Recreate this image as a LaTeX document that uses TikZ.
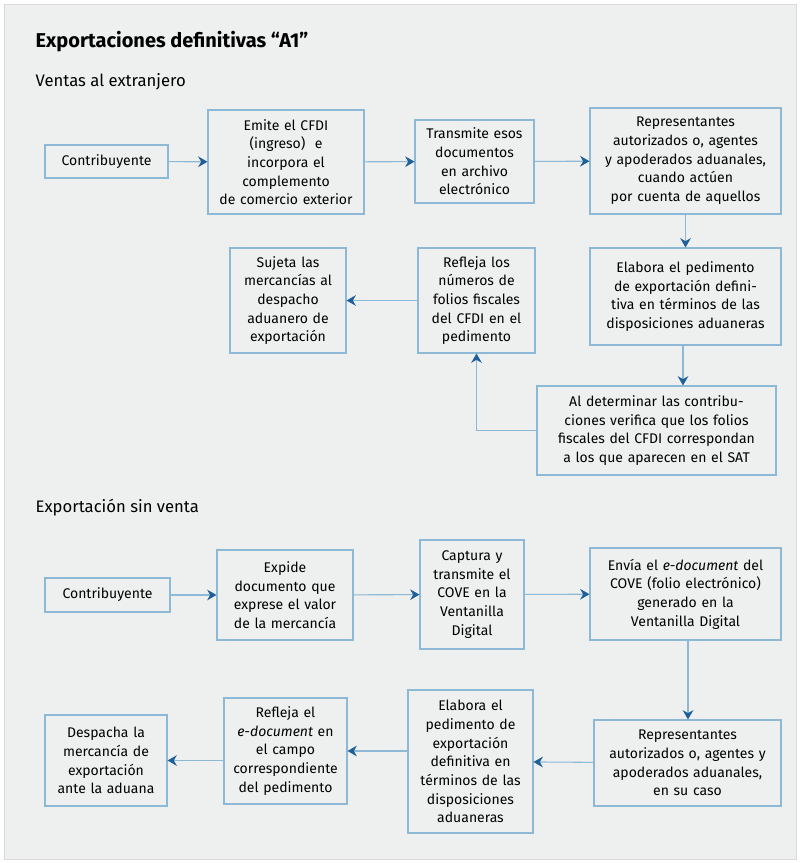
\documentclass[tikz,border=0pt]{standalone}
\usepackage{fontspec}
\setmainfont{Fira Sans}
\usetikzlibrary{arrows.meta}
\definecolor{fondo}{HTML}{EEF0EF}
\definecolor{marco}{HTML}{8DB8D6}
\definecolor{flecha}{HTML}{1F5F9A}
\tikzset{
  paso/.style={draw=marco, thick, align=center, inner sep=2pt, font=\fontsize{10.5}{14}\selectfont},
  flujo/.style={draw=marco, thick, -{Stealth[length=7pt,width=8pt,color=flecha]}}
}
% caja centrada en (x,y) con ancho y alto en pixeles
\newcommand{\caja}[7]{\node[paso, minimum width=#4*0.75pt, minimum height=#5*0.75pt, text width=#6*0.75pt] (#1) at (#2,#3) {#7};}
\begin{document}
\begin{tikzpicture}[x=0.75pt, y=-0.75pt]
  % Fondo
  \fill[white] (0,0) rectangle (800,863);
  \draw[fill=fondo, draw=black!15] (4,4) rectangle (796,859);
  \useasboundingbox (0,0) rectangle (800,863);

  % Titulos
  \node[anchor=west, font=\bfseries\fontsize{15}{18}\selectfont] (titulo) at (31,42) {Exportaciones definitivas “A1”};
  \node[anchor=west, font=\fontsize{12.5}{15}\selectfont] (venta) at (31,82) {Ventas al extranjero};
  \node[anchor=west, font=\fontsize{12.5}{15}\selectfont] (sinventa) at (31,508) {Exportación sin venta};

  % Ventas al extranjero
  \caja{a1}{106.5}{161.5}{123}{33}{115}{Contribuyente}
  \caja{a2}{286}{162}{156}{104}{150}{Emite el CFDI\\(ingreso)\ \ e\\incorpora el\\complemento\\de comercio exterior}
  \caja{a3}{474.5}{161.5}{119}{83}{112}{Transmite esos documentos en archivo electrónico}
  \caja{a4}{685.5}{161}{191}{106}{185}{Representantes\\autorizados o, agentes\\y apoderados aduanales,\\cuando actúen\\por cuenta de aquellos}
  \caja{a5}{685.5}{296.5}{191}{97}{185}{Elabora el pedimento de exportación definitiva en términos de las disposiciones aduaneras}
  \caja{a6}{656.5}{430.5}{239}{89}{232}{Al determinar las contribuciones verifica que los folios fiscales del CFDI correspondan a los que aparecen en el SAT}
  \caja{a7}{476.5}{300.5}{117}{105}{108}{Refleja los\\números de\\folios fiscales\\del CFDI en el\\pedimento}
  \caja{a8}{288}{300.5}{116}{105}{108}{Sujeta las\\mercancías al\\despacho\\aduanero de\\exportación}

  \draw[flujo] (a1) -- (a2);
  \draw[flujo] (a2) -- (a3);
  \draw[flujo] (a3) -- (a4);
  \draw[flujo] (a4) -- (a5);
  \draw[flujo] (a5.south -| 683,0) -- (a6.north -| 683,0);
  \draw[flujo] (a6.west) -| (a7.south);
  \draw[flujo] (a7) -- (a8);

  % Exportacion sin venta
  \caja{b1}{107.5}{595}{125}{34}{118}{Contribuyente}
  \caja{b2}{285}{595}{136}{90}{128}{Expide\\documento que\\exprese el valor\\de la mercancía}
  \caja{b3}{472}{594.5}{104}{109}{96}{Captura y\\transmite el\\COVE en la\\Ventanilla\\Digital}
  \caja{b4}{685.5}{594}{191}{92}{185}{Envía el \emph{e-document} del\\COVE (folio electrónico)\\generado en la\\Ventanilla Digital}
  \caja{b5}{687.5}{763}{187}{86}{180}{Representantes\\autorizados o, agentes y\\apoderados aduanales,\\en su caso}
  \caja{b6}{470.5}{761.5}{125}{143}{118}{Elabora el\\pedimento de\\exportación\\definitiva en\\términos de las\\disposiciones\\aduaneras}
  \caja{b7}{285.5}{751}{123}{106}{116}{Refleja el\\\emph{e-document} en\\el campo\\correspondiente\\del pedimento}
  \caja{b8}{106}{760.5}{122}{91}{115}{Despacha la\\mercancía de\\exportación\\ante la aduana}

  \draw[flujo] (b1) -- (b2);
  \draw[flujo] (b2) -- (b3);
  \draw[flujo] (b3) -- (b4);
  \draw[flujo] (b4.south -| 688,0) -- (b5.north -| 688,0);
  \draw[flujo] (b5) -- (b6);
  \draw[flujo] (b6.west |- b7) -- (b7);
  \draw[flujo] (b7.west |- b8) -- (b8);
\end{tikzpicture}
\end{document}
